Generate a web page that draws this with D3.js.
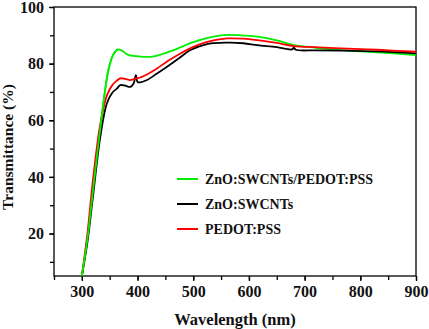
<!DOCTYPE html>
<html>
<head>
<meta charset="utf-8">
<script src="https://cdn.jsdelivr.net/npm/d3@7"></script>
<style>
  body { margin: 0; background: #fff; }
  svg text { font-family: "Liberation Serif", "DejaVu Serif", serif; font-weight: bold; fill: #111; }
</style>
</head>
<body>
<svg id="chart" width="429" height="329"></svg>
<script>
// spectra: [wavelength nm, transmittance %]
const green_pts = [[300,5],[310,18],[320,35],[330,52],[340,68],[348,78],[356,83],[364,85],[372,84.6],[382,83.2],
    [400,82.6],[423,82.4],[445,83.4],[465,84.8],[500,87.6],[530,89.3],[555,90.1],[585,90],[615,89.5],[650,88.2],
    [681,86.5],[720,85.6],[765,84.8],[830,84],[900,83]];
const black_pts = [[300,5],[310,17],[320,33],[333,54],[345,66],[355,69.8],[363,71.2],[369,72.4],[378,72.2],
    [387,71.8],[393,73],[397,75.9],[400,73.5],[405,73.4],[417,74.2],[435,76.5],[453,78.9],[475,82],[495,84.8],
    [525,86.9],[561,87.4],[590,87.2],[615,86.5],[650,85.8],[677,85],[681,85.6],[684,84.9],[720,84.7],[765,84.6],
    [830,84.3],[900,83.6]];
const red_pts = [[300,5],[310,20],[320,39],[333,58.5],[345,68.8],[355,72.5],[363,74],[369,74.8],[378,74.6],
    [387,74.2],[397,74.8],[405,75.1],[420,76.5],[435,78.3],[455,81],[477,83.6],[500,85.9],[525,87.7],[561,88.9],
    [590,88.8],[615,88.3],[650,87.3],[681,86.2],[720,85.8],[765,85.4],[830,84.9],[900,84.2]];

const series_names = ["ZnO:SWCNTs/PEDOT:PSS", "ZnO:SWCNTs", "PEDOT:PSS"];
const series_colors = ["#00ee00", "#000000", "#ff0000"];
const x_ticks = [300, 400, 500, 600, 700, 800, 900];
const y_ticks = [20, 40, 60, 80, 100];

const width = 429, height = 329,
    margin = ({ top: 7, right: 13, bottom: 53, left: 54 });

const svg = d3.select("#chart");

let x = d3.scaleLinear()
    .domain([250, 900])
    .range([margin.left, width - margin.right]);

let y = d3.scaleLinear()
    .domain([5, 100])
    .range([height - margin.bottom, margin.top]);

// minor ticks first, then major with labels
svg.append("g")
    .attr("transform", `translate(0,${height - margin.bottom})`)
    .call(d3.axisBottom(x).tickValues(d3.range(250, 901, 50)).tickSize(4).tickFormat("").tickSizeOuter(0))
    .call(g => g.select(".domain").remove())
    .selectAll("line").attr("stroke-width", 1.3);

svg.append("g")
    .attr("transform", `translate(${margin.left},0)`)
    .call(d3.axisLeft(y).tickValues(d3.range(10, 101, 10)).tickSize(4).tickFormat("").tickSizeOuter(0))
    .call(g => g.select(".domain").remove())
    .selectAll("line").attr("stroke-width", 1.3);

svg.append("g")
    .attr("class", "x-ax")
    .attr("transform", `translate(0,${height - margin.bottom})`)
    .call(d3.axisBottom(x).tickValues(x_ticks).tickSize(5).tickPadding(5).tickSizeOuter(0))
    .call(g => g.select(".domain").remove())
    .call(g => g.selectAll("line").attr("stroke-width", 1.3))
    .selectAll("text")
    .style("font-size", "16px");

svg.append("g")
    .attr("class", "y-ax")
    .attr("transform", `translate(${margin.left},0)`)
    .call(d3.axisLeft(y).tickValues(y_ticks).tickSize(5).tickPadding(5).tickSizeOuter(0))
    .call(g => g.select(".domain").remove())
    .call(g => g.selectAll("line").attr("stroke-width", 1.3))
    .selectAll("text")
    .style("font-size", "16px");

svg.selectAll(".tick text").attr("font-family", null).attr("font-size", null);

// frame
svg.append("rect")
    .attr("x", margin.left)
    .attr("y", margin.top)
    .attr("width", width - margin.left - margin.right)
    .attr("height", height - margin.top - margin.bottom)
    .attr("fill", "none")
    .attr("stroke", "#000")
    .attr("stroke-width", 1.3);

const line = d3.line()
    .x(d => x(d[0]))
    .y(d => y(d[1]))
    .curve(d3.curveCatmullRom.alpha(0.5));

[green_pts, black_pts, red_pts].forEach((pts, i) => {
    svg.append("path")
        .datum(pts)
        .attr("fill", "none")
        .attr("stroke", series_colors[i])
        .attr("stroke-width", 1.8)
        .attr("d", line);
});

// green drawn on top at the left edge
svg.append("path")
    .datum(green_pts.slice(0, 8))
    .attr("fill", "none")
    .attr("stroke", series_colors[0])
    .attr("stroke-width", 1.8)
    .attr("d", line);

// legend
const legend = svg.append("g");
series_names.forEach((name, i) => {
    let ly = 179 + i * 25;
    legend.append("line")
        .attr("x1", 177).attr("x2", 198)
        .attr("y1", ly).attr("y2", ly)
        .attr("stroke", series_colors[i])
        .attr("stroke-width", 2);
    legend.append("text")
        .attr("x", 205)
        .attr("y", ly)
        .attr("dy", "0.35em")
        .style("font-size", "14px")
        .text(name);
});

svg.append("text")
    .attr("x", (margin.left + width - margin.right) / 2)
    .attr("y", 325)
    .attr("text-anchor", "middle")
    .style("font-size", "16.5px")
    .text("Wavelength (nm)");

svg.append("text")
    .attr("transform", `translate(13,147) rotate(-90)`)
    .attr("text-anchor", "middle")
    .style("font-size", "15.5px")
    .text("Transmittance (%)");
</script>
</body>
</html>
